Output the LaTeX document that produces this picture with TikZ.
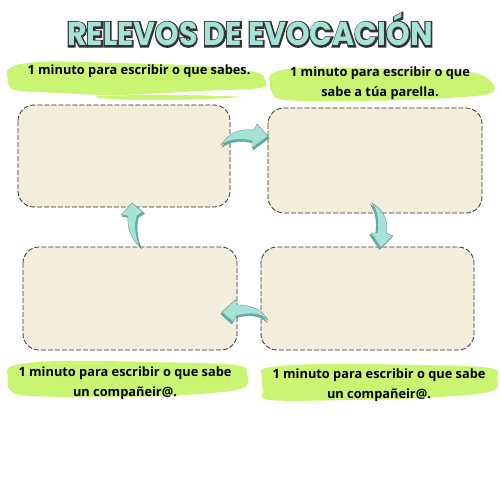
\documentclass[tikz,border=0pt]{standalone}
\usepackage{fontspec}
\setmainfont{Open Sans}
\newfontfamily\titlefont{Poppins}
\newfontfamily\titlefontO{Poppins}[FakeBold=10]
\usetikzlibrary{calc}
\definecolor{boxfill}{HTML}{F3EEDB}
\definecolor{boxline}{HTML}{333333}
\definecolor{lime}{HTML}{C9F572}
\definecolor{tealL}{HTML}{A6E3D7}
\definecolor{tealD}{HTML}{4FB8AE}
\definecolor{tealO}{HTML}{6E8C88}
\definecolor{titleO}{HTML}{333333}
\tikzset{
  card/.style={draw=boxline, fill=boxfill, dash pattern=on 5pt off 2pt, line width=0.8pt, rounded corners=16pt},
  brush/.style={fill=lime, draw=none},
  lbl/.style={font=\bfseries\fontsize{12.8}{20}\selectfont, text=black, align=center, inner sep=0pt},
  arrowback/.style={fill=tealD, draw=tealO, line width=0.4pt},
  arrowfront/.style={fill=tealL, draw=tealO, line width=0.4pt},
  titletxt/.style={inner sep=0pt}
}
\begin{document}
\begin{tikzpicture}[x=1pt,y=-1pt]
\useasboundingbox (0,0) rectangle (500,500);
\fill[white] (0,0) rectangle (500,500);

% title with outline
\node[titletxt, text=titleO, font=\titlefontO\bfseries\fontsize{30}{32}\selectfont, yscale=1.1] (titleshadow) at (250,30) {RELEVOS DE EVOCACIÓN};
\node[titletxt, text=tealL, font=\titlefont\bfseries\fontsize{30}{32}\selectfont, yscale=1.1] (title) at (250,30) {RELEVOS DE EVOCACIÓN};

% brush strokes
\fill[brush] plot[smooth cycle, tension=0.6] coordinates {(10,68) (40,62) (120,63) (200,66) (255,72) (265,80) (260,88) (200,91) (120,95) (60,93) (15,90) (8,80)};
\fill[brush] plot[smooth cycle, tension=0.6] coordinates {(100,96) (170,95) (240,97) (170,100) (110,99)};
\fill[brush] plot[smooth cycle, tension=0.6] coordinates {(272,74) (300,68) (400,69) (470,72) (492,83) (488,94) (430,99) (350,101) (285,100) (272,92) (270,82)};
\fill[brush] plot[smooth cycle, tension=0.6] coordinates {(12,366) (60,361) (150,362) (235,365) (247,375) (243,388) (200,394) (120,397) (30,396) (10,390) (8,378)};
\fill[brush] plot[smooth cycle, tension=0.6] coordinates {(266,368) (320,364) (420,365) (490,368) (497,378) (492,391) (440,397) (350,400) (270,400) (263,390) (262,377)};

% labels
\node[lbl] (l1) at (139,71) {1 minuto para escribir o que sabes.};
\node[lbl] (l2) at (380,83) {1 minuto para escribir o que\\sabe a túa parella.};
\node[lbl] (l3) at (125,383) {1 minuto para escribir o que sabe\\un compañeir@.};
\node[lbl] (l4) at (379,385) {1 minuto para escribir o que sabe\\un compañeir@.};

% cards
\draw[card] (18,105) rectangle (230,207);
\draw[card] (268,108) rectangle (482,213);
\draw[card] (23,247) rectangle (237,350);
\draw[card] (261,247) rectangle (474,350);

% arrow 1 (right)
\foreach \dx/\dy/\s in {1.2/2/arrowback, 0/0/arrowfront}{
\begin{scope}[shift={(\dx,\dy)}]
\draw[\s] (221,145) .. controls (230,131) and (242,129) .. (254,130) -- (257,124) -- (268,136) -- (252,148) -- (252,141) .. controls (240,138) and (230,139) .. cycle;
\end{scope}}
% arrow 2 (down)
\foreach \dx/\dy/\s in {-1.5/1.5/arrowback, 0/0/arrowfront}{
\begin{scope}[shift={(\dx,\dy)}]
\draw[\s] (372,203) .. controls (384,210) and (389,222) .. (386,233) -- (393,236) -- (381,248) -- (371,233) -- (377,233) .. controls (379,220) and (377,210) .. cycle;
\end{scope}}
% arrow 3 (left)
\foreach \dx/\dy/\s in {-1.2/2/arrowback, 0/0/arrowfront}{
\begin{scope}[shift={(\dx,\dy)}]
\draw[\s] (268,320) .. controls (262,310) and (252,305) .. (238,305) -- (235,300) -- (222,312) -- (233,322) -- (236,316) .. controls (250,312) and (260,313) .. cycle;
\end{scope}}
% arrow 4 (up)
\foreach \dx/\dy/\s in {1.5/1.5/arrowback, 0/0/arrowfront}{
\begin{scope}[shift={(\dx,\dy)}]
\draw[\s] (140,247) .. controls (130,238) and (127,226) .. (128,216) -- (121,215) -- (132,203) -- (143,212) -- (137,216) .. controls (134,226) and (136,238) .. cycle;
\end{scope}}
\end{tikzpicture}
\end{document}
